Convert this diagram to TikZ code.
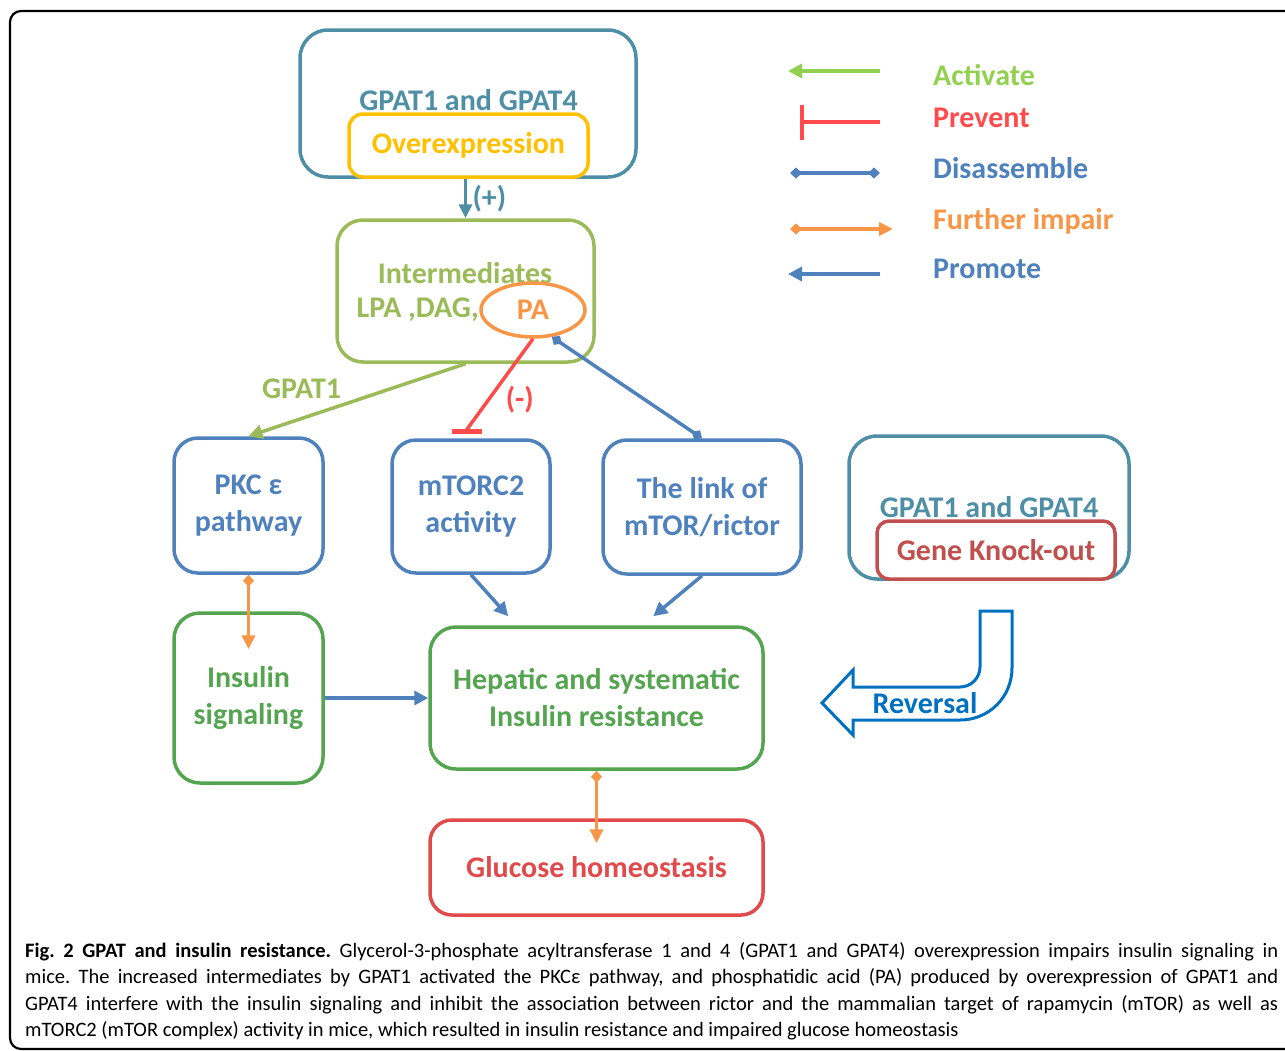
\documentclass[tikz,border=0pt]{standalone}
\usepackage{fontspec}
\setmainfont{Carlito}
\usetikzlibrary{arrows.meta,positioning,shapes.geometric,calc}
\frenchspacing

\definecolor{gpteal}{HTML}{4F8FA6}
\definecolor{ovyellow}{HTML}{FFC000}
\definecolor{olivegreen}{HTML}{9BBB59}
\definecolor{paorange}{HTML}{F79646}
\definecolor{prevred}{HTML}{FF4B4B}
\definecolor{boxblue}{HTML}{4F81BD}
\definecolor{insgreen}{HTML}{55A550}
\definecolor{glucred}{HTML}{E04A4A}
\definecolor{kored}{HTML}{C0504D}
\definecolor{revblue}{HTML}{0070C0}
\definecolor{actgreen}{HTML}{92D050}

\tikzset{
  boxfont/.style={font=\fontsize{30}{37}\selectfont\bfseries},
  tealbox/.style={draw=gpteal, line width=3.5pt, rounded corners=28},
  yellowbox/.style={draw=ovyellow, fill=white, line width=3.5pt, rounded corners=14, text=ovyellow, boxfont},
  redinbox/.style={draw=kored, fill=white, line width=3.5pt, rounded corners=12, text=kored, boxfont},
  tealtext/.style={text=gpteal, inner sep=0pt, boxfont},
  olivebox/.style={draw=olivegreen, line width=3.5pt, rounded corners=26},
  olivetext/.style={text=olivegreen, boxfont},
  bluebox/.style={draw=boxblue, line width=3.5pt, rounded corners=24, text=boxblue, align=center, boxfont},
  greenbox/.style={draw=insgreen, line width=3.5pt, rounded corners=26, text=insgreen, align=center, boxfont},
  glucbox/.style={draw=glucred, line width=3.5pt, rounded corners=22, text=glucred, align=center, boxfont},
  paell/.style={ellipse, draw=paorange, line width=3.5pt, text=paorange, inner sep=0pt, boxfont},
  legtext/.style={anchor=west, inner sep=0pt, font=\fontsize{30}{32}\selectfont\bfseries},
  activate/.style={draw=actgreen, line width=3.5pt, -{Triangle[length=14pt,width=14pt]}},
  promote/.style={draw=boxblue, line width=3.5pt, -{Triangle[length=14pt,width=14pt]}},
  plusarrow/.style={draw=gpteal, line width=3.5pt, -{Triangle[length=14pt,width=13pt]}},
  prevent/.style={draw=prevred, line width=3.5pt, -{Bar[width=30pt,line width=5pt]}},
  disasm/.style={draw=boxblue, line width=3.5pt, {Diamond[length=12pt,width=11pt]}-{Diamond[length=12pt,width=11pt]}},
  impair/.style={draw=paorange, line width=3.5pt, {Diamond[length=12pt,width=11pt]}-{Triangle[length=14pt,width=13pt]}},
  capfont/.style={anchor=base west, inner sep=0pt, font=\fontsize{20.5}{26}\selectfont}
}
\newcommand{\capline}[1]{\makebox[1253pt][s]{#1}}

\begin{document}
\begin{tikzpicture}[x=1pt,y=1pt,yscale=-1,xscale=1]
	\useasboundingbox (0,0) rectangle (1285,1050);
	%Frame round the figure
	\draw [line width=2.2pt, rounded corners=11] (1300,11) -- (10,11) -- (10,1049) -- (1300,1049);
	
	%Overexpression box
	\node [tealbox, minimum width=336, minimum height=147] (gpatover) at (468,103.5) {};
	\node [yellowbox, minimum width=239, minimum height=63] (ovx) at (468.5,145.5) {Overexpression};
	\node [tealtext, above=1pt of ovx] (gpattop) {GPAT1 and GPAT4};
	
	%Intermediates box
	\node [olivebox, minimum width=257, minimum height=142] (inter) at (465.5,291) {};
	\node [olivetext] (intname) at (465,273) {Intermediates};
	\node [olivetext, anchor=east, inner sep=0pt] (lpa) at (479,310) {LPA ,DAG,};
	\node [paell, minimum width=104, minimum height=54] (pa) at (533,310) {PA};
	
	%Middle row
	\node [bluebox, minimum width=149, minimum height=135] (pkc) at (248.5,505.5) {PKC ε\\pathway};
	\node [bluebox, minimum width=158, minimum height=133] (mtorc) at (471,506.5) {mTORC2\\activity};
	\node [bluebox, minimum width=198, minimum height=134] (link) at (702,507) {The link of\\mTOR/rictor};
	
	%Knock-out box
	\node [tealbox, minimum width=280, minimum height=143] (gpatko) at (989,507.5) {};
	\node [redinbox, minimum width=238, minimum height=58] (ko) at (996,550) {Gene Knock-out};
	\node [tealtext, above=1pt of ko, xshift=-7pt] (gpatbot) {GPAT1 and GPAT4};
	
	%Lower boxes
	\node [greenbox, minimum width=149, minimum height=170] (ins) at (248.5,698) {Insulin\\signaling};
	\node [greenbox, minimum width=333, minimum height=142] (hep) at (596.5,698) {Hepatic and systematic\\Insulin resistance};
	\node [glucbox, minimum width=333, minimum height=95] (gluc) at (596.5,867.5) {Glucose homeostasis};
	
	\coordinate (insTip) at ($(ins.north)+(0,38)$);
	\coordinate (glucTip) at ($(gluc.north)+(0,25)$);
	\coordinate (hepA) at ($(hep.north west)+(80,-9)$);
	\coordinate (hepB) at ($(hep.north west)+(225,-9)$);
	
	%Connectors
	\draw [plusarrow] (ovx.south -| inter.north) -- (inter.north) node [midway, right=2pt, text=gpteal, boxfont] {(+)};
	\draw [activate, draw=olivegreen] (inter.south) -- (pkc.north) node [pos=0.55, above left=0pt, text=olivegreen, boxfont] {GPAT1};
	\draw [prevent] (pa.south) -- node [pos=0.67, right=12pt, text=prevred, boxfont] {(-)} ($(mtorc.north)+(-4,-9)$) -- ($(mtorc.north)+(-4,-4)$);
	\draw [disasm] (pa.-55) -- (link.north);
	\draw [impair] (pkc.south) -- (insTip);
	\draw [promote] (mtorc.south) -- (hepA);
	\draw [promote] (link.south) -- (hepB);
	\draw [promote] (ins.east) -- (hep.west);
	\draw [impair] (hep.south) -- (glucTip);
	
	%Reversal arrow
	\draw [revblue, line width=3pt, line join=miter] (980,611) -- (1012,611) -- (1012,668) .. controls (1012,697) and (989,720) .. (960,720) -- (853,720) -- (853,735) -- (822,703) -- (853,670) -- (853,687) -- (960,687) .. controls (971,687) and (980,678) .. (980,667) -- cycle;
	\node [text=revblue, boxfont] (rev) at (925,703) {Reversal};
	
	%Legend
	\node [legtext, text=actgreen] (lgact) at (933,75) {Activate};
	\node [legtext, text=prevred] (lgprev) at (933,118) {Prevent};
	\node [legtext, text=boxblue] (lgdis) at (933,168) {Disassemble};
	\node [legtext, text=paorange] (lgimp) at (933,221) {Further impair};
	\node [legtext, text=boxblue] (lgpro) at (933,269) {Promote};
	\draw [activate] ($(lgact.west)+(-53,-4)$) -- ++(-92,0);
	\draw [prevent, -] ($(lgprev.west)+(-53,4)$) -- ++(-78,0);
	\draw [draw=prevred, line width=4.5pt] ($(lgprev.west)+(-131,-13)$) -- ++(0,35);
	\draw [disasm] ($(lgdis.west)+(-53,5)$) -- ++(-90,0);
	\draw [impair] ($(lgimp.west)+(-143,8)$) -- ++(103,0);
	\draw [promote] ($(lgpro.west)+(-53,5)$) -- ++(-92,0);
	
	%Caption
	\node [capfont] (cap1) at (25,957) {\capline{\textbf{Fig. 2 GPAT and insulin resistance.} Glycerol-3-phosphate acyltransferase 1 and 4 (GPAT1 and GPAT4) overexpression impairs insulin signaling in}};
	\node [capfont] (cap2) at (25,983.5) {\capline{mice. The increased intermediates by GPAT1 activated the PKCε pathway, and phosphatidic acid (PA) produced by overexpression of GPAT1 and}};
	\node [capfont] (cap3) at (25,1010) {\capline{GPAT4 interfere with the insulin signaling and inhibit the association between rictor and the mammalian target of rapamycin (mTOR) as well as}};
	\node [capfont] (cap4) at (25,1036.5) {mTORC2 (mTOR complex) activity in mice, which resulted in insulin resistance and impaired glucose homeostasis};
	
\end{tikzpicture}
\end{document}
